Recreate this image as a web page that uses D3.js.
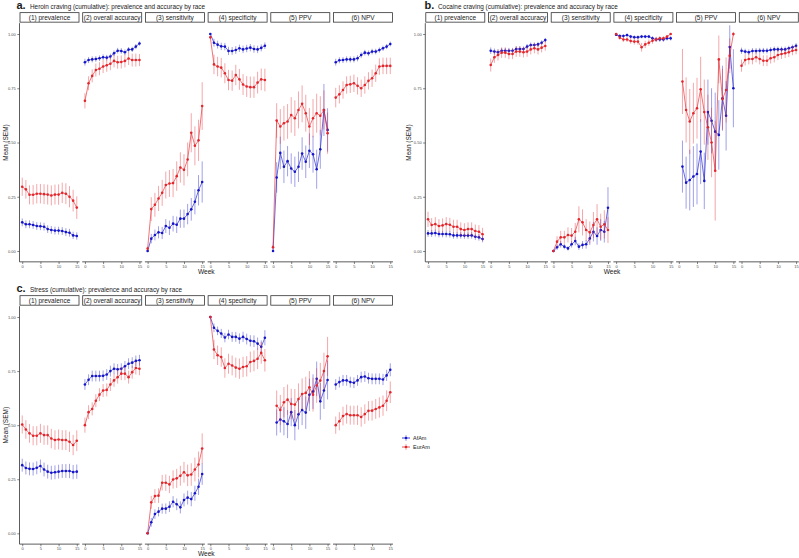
<!DOCTYPE html>
<html>
<head>
<meta charset="utf-8">
<script src="https://cdn.jsdelivr.net/npm/d3@7"></script>
<style>
  body { margin: 0; background: #fff; }
  svg { display: block; font-family: "Liberation Sans", Arial, sans-serif; }
</style>
</head>
<body>
<div id="chart"></div>
<script>
const weeks = [0, 1, 2, 3, 4, 5, 6, 7, 8, 9, 10, 11, 12, 13, 14, 15];
const weekTicks = [0, 5, 10, 15];
const yTicks = [0, 0.25, 0.5, 0.75, 1];
const facetLabels = ["(1) prevalence", "(2) overall accuracy", "(3) sensitivity", "(4) specificity", "(5) PPV", "(6) NPV"];
const groups = ["AfAm", "EurAm"];
const panelTags = ["a.", "b.", "c."];
const panelTitles = [
  "Heroin craving (cumulative): prevalence and accuracy by race",
  "Cocaine craving (cumulative): prevalence and accuracy by race",
  "Stress (cumulative): prevalence and accuracy by race"
];

// heroin craving (a)
const heroinAfAmMean = [
  [0.132,0.123,0.123,0.120,0.115,0.114,0.112,0.101,0.097,0.094,0.094,0.092,0.087,0.084,0.072,0.069],
  [0.870,0.880,0.883,0.885,0.888,0.893,0.891,0.896,0.911,0.923,0.922,0.916,0.928,0.929,0.942,0.956],
  [0.000,0.057,0.074,0.086,0.083,0.115,0.107,0.126,0.121,0.149,0.149,0.170,0.192,0.227,0.280,0.318],
  [1.000,0.960,0.951,0.943,0.942,0.922,0.922,0.926,0.934,0.929,0.933,0.937,0.931,0.929,0.936,0.946],
  [0.000,0.339,0.452,0.388,0.414,0.380,0.365,0.388,0.449,0.411,0.462,0.446,0.377,0.469,0.650,0.558],
  [0.870,0.879,0.880,0.883,0.883,0.883,0.888,0.903,0.914,0.911,0.919,0.919,0.926,0.934,0.942,0.954]
];
const heroinAfAmSem = [
  [0.018,0.018,0.018,0.018,0.018,0.018,0.018,0.018,0.018,0.018,0.018,0.018,0.018,0.018,0.017,0.017],
  [0.016,0.014,0.014,0.013,0.013,0.013,0.013,0.013,0.013,0.013,0.013,0.013,0.012,0.012,0.012,0.010],
  [0.003,0.022,0.025,0.028,0.028,0.032,0.033,0.036,0.038,0.042,0.042,0.047,0.052,0.058,0.070,0.095],
  [0.002,0.018,0.018,0.017,0.017,0.019,0.018,0.018,0.017,0.017,0.017,0.017,0.017,0.017,0.016,0.015],
  [0.000,0.070,0.075,0.075,0.070,0.070,0.070,0.070,0.075,0.075,0.080,0.085,0.090,0.090,0.120,0.100],
  [0.016,0.014,0.014,0.014,0.014,0.014,0.014,0.013,0.013,0.013,0.013,0.013,0.012,0.012,0.012,0.011]
];
const heroinEurAmMean = [
  [0.296,0.284,0.259,0.259,0.264,0.264,0.262,0.260,0.256,0.260,0.260,0.268,0.264,0.250,0.232,0.200],
  [0.692,0.773,0.807,0.834,0.840,0.850,0.856,0.863,0.876,0.870,0.871,0.876,0.887,0.880,0.880,0.880],
  [0.011,0.193,0.213,0.242,0.268,0.304,0.311,0.313,0.345,0.385,0.374,0.422,0.545,0.485,0.510,0.668],
  [0.985,0.860,0.850,0.845,0.819,0.788,0.785,0.811,0.791,0.767,0.758,0.755,0.755,0.776,0.791,0.788],
  [0.017,0.601,0.574,0.589,0.597,0.627,0.612,0.650,0.678,0.635,0.574,0.612,0.635,0.623,0.650,0.543],
  [0.707,0.722,0.742,0.765,0.768,0.773,0.761,0.750,0.765,0.784,0.796,0.819,0.850,0.853,0.853,0.853]
];
const heroinEurAmSem = [
  [0.042,0.043,0.044,0.045,0.045,0.045,0.046,0.046,0.046,0.046,0.047,0.047,0.048,0.049,0.050,0.052],
  [0.035,0.032,0.030,0.030,0.030,0.030,0.030,0.030,0.030,0.030,0.030,0.030,0.030,0.030,0.030,0.028],
  [0.008,0.055,0.055,0.058,0.060,0.062,0.062,0.065,0.068,0.070,0.072,0.078,0.090,0.090,0.095,0.110],
  [0.008,0.045,0.045,0.045,0.046,0.047,0.047,0.047,0.048,0.048,0.048,0.049,0.049,0.050,0.050,0.052],
  [0.010,0.080,0.080,0.080,0.080,0.082,0.082,0.085,0.085,0.085,0.085,0.088,0.090,0.090,0.090,0.095],
  [0.045,0.042,0.040,0.040,0.040,0.040,0.040,0.040,0.040,0.040,0.040,0.040,0.038,0.038,0.038,0.038]
];

// cocaine craving (b)
const cocaineAfAmMean = [
  [0.081,0.081,0.083,0.078,0.078,0.078,0.077,0.072,0.072,0.072,0.071,0.071,0.072,0.066,0.063,0.055],
  [0.923,0.919,0.916,0.923,0.923,0.923,0.923,0.931,0.931,0.931,0.942,0.949,0.949,0.952,0.960,0.972],
  [0.000,0.017,0.031,0.020,0.012,0.031,0.046,0.020,0.028,0.031,0.058,0.089,0.069,0.097,0.089,0.199],
  [0.997,0.991,0.991,0.995,0.988,0.985,0.985,0.988,0.988,0.988,0.980,0.975,0.975,0.975,0.980,0.980],
  [null,0.389,0.315,0.327,0.343,0.355,0.458,0.323,0.640,0.600,0.550,0.535,0.704,0.623,0.940,0.750],
  [0.923,0.919,0.916,0.922,0.922,0.923,0.923,0.923,0.926,0.929,0.929,0.929,0.929,0.934,0.939,0.946]
];
const cocaineAfAmSem = [
  [0.016,0.016,0.016,0.015,0.015,0.015,0.015,0.015,0.015,0.015,0.015,0.015,0.015,0.015,0.015,0.015],
  [0.015,0.014,0.014,0.013,0.013,0.013,0.013,0.013,0.013,0.012,0.012,0.012,0.012,0.012,0.011,0.010],
  [0.002,0.012,0.015,0.012,0.010,0.015,0.020,0.015,0.018,0.020,0.030,0.045,0.040,0.050,0.050,0.095],
  [0.004,0.008,0.008,0.006,0.008,0.009,0.009,0.008,0.008,0.008,0.010,0.011,0.011,0.011,0.010,0.010],
  [null,0.120,0.120,0.140,0.140,0.140,0.150,0.130,0.150,0.150,0.180,0.160,0.150,0.160,0.100,0.180],
  [0.014,0.013,0.013,0.013,0.013,0.013,0.013,0.013,0.013,0.013,0.013,0.013,0.013,0.012,0.012,0.012]
];
const cocaineEurAmMean = [
  [0.146,0.120,0.124,0.115,0.118,0.124,0.121,0.112,0.112,0.101,0.097,0.101,0.101,0.092,0.089,0.077],
  [0.857,0.893,0.903,0.914,0.914,0.908,0.908,0.919,0.919,0.916,0.919,0.929,0.934,0.929,0.937,0.945],
  [0.000,0.043,0.063,0.063,0.074,0.071,0.089,0.146,0.132,0.097,0.086,0.120,0.146,0.112,0.123,0.097],
  [1.000,0.983,0.975,0.975,0.968,0.965,0.965,0.939,0.952,0.960,0.969,0.975,0.980,0.980,0.988,1.000],
  [null,0.781,0.650,0.597,0.635,0.658,0.745,0.640,0.570,0.500,0.370,0.883,0.700,0.742,0.900,1.000],
  [0.854,0.880,0.885,0.885,0.893,0.885,0.877,0.877,0.888,0.893,0.903,0.908,0.911,0.916,0.923,0.926]
];
const cocaineEurAmSem = [
  [0.035,0.032,0.032,0.032,0.032,0.032,0.032,0.032,0.032,0.031,0.031,0.031,0.031,0.030,0.030,0.030],
  [0.030,0.026,0.025,0.024,0.024,0.024,0.024,0.024,0.024,0.024,0.024,0.023,0.023,0.023,0.022,0.022],
  [0.002,0.025,0.030,0.030,0.035,0.035,0.040,0.060,0.060,0.050,0.050,0.060,0.070,0.060,0.065,0.060],
  [0.002,0.010,0.012,0.012,0.013,0.014,0.014,0.020,0.017,0.015,0.014,0.012,0.010,0.010,0.008,0.003],
  [null,0.150,0.150,0.150,0.140,0.140,0.150,0.150,0.150,0.160,0.230,0.110,0.140,0.150,0.080,0.010],
  [0.028,0.025,0.025,0.025,0.024,0.025,0.025,0.025,0.024,0.024,0.023,0.023,0.022,0.022,0.021,0.020]
];

// stress (c)
const stressAfAmMean = [
  [0.315,0.302,0.298,0.297,0.303,0.311,0.295,0.285,0.280,0.282,0.285,0.288,0.288,0.288,0.283,0.285],
  [0.688,0.710,0.727,0.727,0.727,0.728,0.734,0.750,0.761,0.758,0.761,0.772,0.784,0.789,0.797,0.800],
  [0.000,0.051,0.089,0.100,0.114,0.114,0.123,0.146,0.134,0.120,0.154,0.165,0.158,0.185,0.215,0.274],
  [1.000,0.950,0.936,0.924,0.905,0.919,0.908,0.908,0.900,0.908,0.898,0.890,0.888,0.877,0.862,0.904],
  [null,0.512,0.526,0.518,0.505,0.560,0.500,0.550,0.570,0.558,0.640,0.655,0.714,0.610,0.660,0.709],
  [0.688,0.699,0.707,0.707,0.699,0.696,0.707,0.722,0.725,0.717,0.714,0.714,0.714,0.711,0.730,0.756]
];
const stressAfAmSem = [
  [0.030,0.030,0.030,0.030,0.030,0.030,0.032,0.032,0.032,0.032,0.032,0.032,0.032,0.033,0.033,0.033],
  [0.025,0.025,0.025,0.025,0.025,0.025,0.025,0.025,0.025,0.025,0.025,0.025,0.025,0.025,0.025,0.025],
  [0.003,0.020,0.022,0.022,0.023,0.024,0.025,0.026,0.027,0.028,0.030,0.032,0.033,0.035,0.038,0.050],
  [0.003,0.020,0.020,0.021,0.022,0.022,0.023,0.023,0.024,0.024,0.025,0.026,0.027,0.028,0.030,0.035],
  [null,0.060,0.060,0.065,0.065,0.065,0.070,0.070,0.070,0.075,0.075,0.080,0.080,0.085,0.085,0.090],
  [0.025,0.025,0.025,0.025,0.025,0.025,0.025,0.025,0.025,0.025,0.025,0.025,0.025,0.026,0.026,0.030]
];
const stressEurAmMean = [
  [0.503,0.480,0.462,0.451,0.451,0.462,0.454,0.454,0.438,0.431,0.434,0.431,0.431,0.423,0.408,0.428],
  [0.500,0.560,0.575,0.613,0.641,0.660,0.663,0.688,0.707,0.722,0.738,0.738,0.722,0.745,0.764,0.761],
  [0.000,0.143,0.172,0.174,0.234,0.234,0.226,0.249,0.254,0.266,0.282,0.268,0.272,0.295,0.318,0.392],
  [1.000,0.850,0.823,0.815,0.764,0.784,0.776,0.766,0.761,0.769,0.772,0.792,0.797,0.807,0.834,0.800],
  [null,0.590,0.570,0.606,0.618,0.598,0.595,0.621,0.644,0.649,0.675,0.641,0.683,0.706,0.750,0.818],
  [0.500,0.518,0.542,0.551,0.546,0.546,0.546,0.538,0.551,0.566,0.567,0.575,0.582,0.590,0.613,0.652]
];
const stressEurAmSem = [
  [0.042,0.043,0.043,0.044,0.044,0.044,0.045,0.045,0.045,0.045,0.046,0.046,0.046,0.047,0.047,0.048],
  [0.035,0.032,0.030,0.030,0.030,0.030,0.030,0.030,0.030,0.030,0.030,0.030,0.030,0.030,0.030,0.030],
  [0.003,0.030,0.032,0.034,0.036,0.038,0.040,0.042,0.044,0.046,0.048,0.050,0.052,0.055,0.060,0.070],
  [0.003,0.045,0.045,0.045,0.045,0.046,0.046,0.046,0.047,0.047,0.047,0.048,0.048,0.048,0.050,0.052],
  [null,0.070,0.070,0.070,0.070,0.070,0.072,0.072,0.072,0.075,0.075,0.078,0.080,0.082,0.085,0.090],
  [0.040,0.042,0.043,0.044,0.044,0.044,0.045,0.045,0.045,0.045,0.046,0.046,0.047,0.047,0.048,0.050]
];

const panelData = [
  { AfAm: [heroinAfAmMean, heroinAfAmSem], EurAm: [heroinEurAmMean, heroinEurAmSem] },
  { AfAm: [cocaineAfAmMean, cocaineAfAmSem], EurAm: [cocaineEurAmMean, cocaineEurAmSem] },
  { AfAm: [stressAfAmMean, stressAfAmSem], EurAm: [stressEurAmMean, stressEurAmSem] }
];

// layout (pixels)
const layout = [
  { x0: 19.5, yZero: 251, yOne: 34, tagX: 16.5, titleX: 30, titleY: 8.5, yLabX: 8 },
  { x0: 425.3, yZero: 251, yOne: 34, tagX: 424.5, titleX: 438, titleY: 8.5, yLabX: 411 },
  { x0: 19.5, yZero: 533.3, yOne: 317, tagX: 16.5, titleX: 30, titleY: 292, yLabX: 8 }
];
const fw = 60, gap = 2.7;
const color = { AfAm: "#1414c8", EurAm: "#e3262c" };
const textCol = "#1a1a1a", tickCol = "#4d4d4d", axisCol = "#333";

const svg = d3.select("#chart").append("svg").attr("width", 799).attr("height", 558);

layout.forEach((p, pi) => {
  const g = svg.append("g");
  const y = d3.scaleLinear().domain([0, 1]).range([p.yZero, p.yOne]);
  const top = y(1.05), bottom = y(-0.05);

  g.append("text").attr("x", p.tagX).attr("y", p.titleY)
    .attr("font-size", 11).attr("font-weight", "bold").attr("fill", textCol)
    .text(panelTags[pi]);
  g.append("text").attr("x", p.titleX).attr("y", p.titleY)
    .attr("font-size", 6.4).attr("fill", textCol).text(panelTitles[pi]);

  // y axis on first facet
  const yAxis = g.append("g").attr("transform", `translate(${p.x0},0)`)
    .call(d3.axisLeft(y).tickValues(yTicks).tickFormat(d3.format(".2f")).tickSize(2.2).tickPadding(1.5));
  yAxis.select(".domain").attr("d", `M0,${top}V${bottom}`).attr("stroke", axisCol).attr("stroke-width", 0.8);
  yAxis.selectAll(".tick line").attr("stroke", axisCol).attr("stroke-width", 0.6);
  yAxis.selectAll(".tick text").attr("font-size", 4).attr("fill", tickCol).attr("font-family", null);

  const totalW = 6 * fw + 5 * gap;
  g.append("text")
    .attr("transform", `translate(${p.yLabX},${(top + bottom) / 2}) rotate(-90)`)
    .attr("text-anchor", "middle").attr("font-size", 6.5).attr("fill", textCol)
    .text("Mean (SEM)");
  g.append("text").attr("x", p.x0 + totalW / 2).attr("y", bottom + 12.3)
    .attr("text-anchor", "middle").attr("font-size", 6.6).attr("fill", textCol)
    .text("Week");

  facetLabels.forEach((lab, fi) => {
    const fx = p.x0 + fi * (fw + gap);
    const x = d3.scaleLinear().domain([-0.75, 15.75]).range([fx, fx + fw]);

    // strip
    g.append("rect").attr("x", fx + 0.5).attr("y", top - 10.5).attr("width", fw - 1).attr("height", 9.5)
      .attr("fill", "#fff").attr("stroke", "#333").attr("stroke-width", 0.8);
    g.append("text").attr("x", fx + fw / 2).attr("y", top - 3.4)
      .attr("text-anchor", "middle").attr("font-size", 6.5).attr("fill", textCol).text(lab);

    // x axis
    const xAxis = g.append("g").attr("transform", `translate(0,${bottom})`)
      .call(d3.axisBottom(x).tickValues(weekTicks).tickSize(2.2).tickPadding(1));
    xAxis.select(".domain").attr("d", `M${fx},0H${fx + fw}`).attr("stroke", axisCol).attr("stroke-width", 0.8);
    xAxis.selectAll(".tick line").attr("stroke", axisCol).attr("stroke-width", 0.6);
    xAxis.selectAll(".tick text").attr("font-size", 4).attr("fill", tickCol).attr("font-family", null);

    groups.forEach(grp => {
      const [means, sems] = panelData[pi][grp];
      const pts = weeks.map((w, i) => ({ w, m: means[fi][i], s: sems[fi][i] }))
        .filter(d => d.m != null);
      const c = color[grp];
      g.append("g").selectAll("line").data(pts).join("line")
        .attr("x1", d => x(d.w)).attr("x2", d => x(d.w))
        .attr("y1", d => y(d.m - d.s)).attr("y2", d => y(d.m + d.s))
        .attr("stroke", c).attr("stroke-width", 0.9).attr("stroke-opacity", 0.45);
      g.append("path").datum(pts)
        .attr("d", d3.line().x(d => x(d.w)).y(d => y(d.m)))
        .attr("fill", "none").attr("stroke", c).attr("stroke-width", 0.8).attr("stroke-opacity", 0.8);
      g.append("g").selectAll("circle").data(pts).join("circle")
        .attr("cx", d => x(d.w)).attr("cy", d => y(d.m)).attr("r", 1.3).attr("fill", c);
    });
  });
});

// legend
const legend = svg.append("g").attr("transform", "translate(402,438)");
groups.forEach((grp, i) => {
  const row = legend.append("g").attr("transform", `translate(0,${i * 9})`);
  row.append("line").attr("x1", 0).attr("x2", 8).attr("y1", 0).attr("y2", 0)
    .attr("stroke", color[grp]).attr("stroke-width", 0.8);
  row.append("line").attr("x1", 4).attr("x2", 4).attr("y1", -3).attr("y2", 3)
    .attr("stroke", color[grp]).attr("stroke-width", 0.9).attr("stroke-opacity", 0.45);
  row.append("circle").attr("cx", 4).attr("cy", 0).attr("r", 1.3).attr("fill", color[grp]);
  row.append("text").attr("x", 11).attr("y", 2).attr("font-size", 5.5).attr("fill", textCol).text(grp);
});
</script>
</body>
</html>
